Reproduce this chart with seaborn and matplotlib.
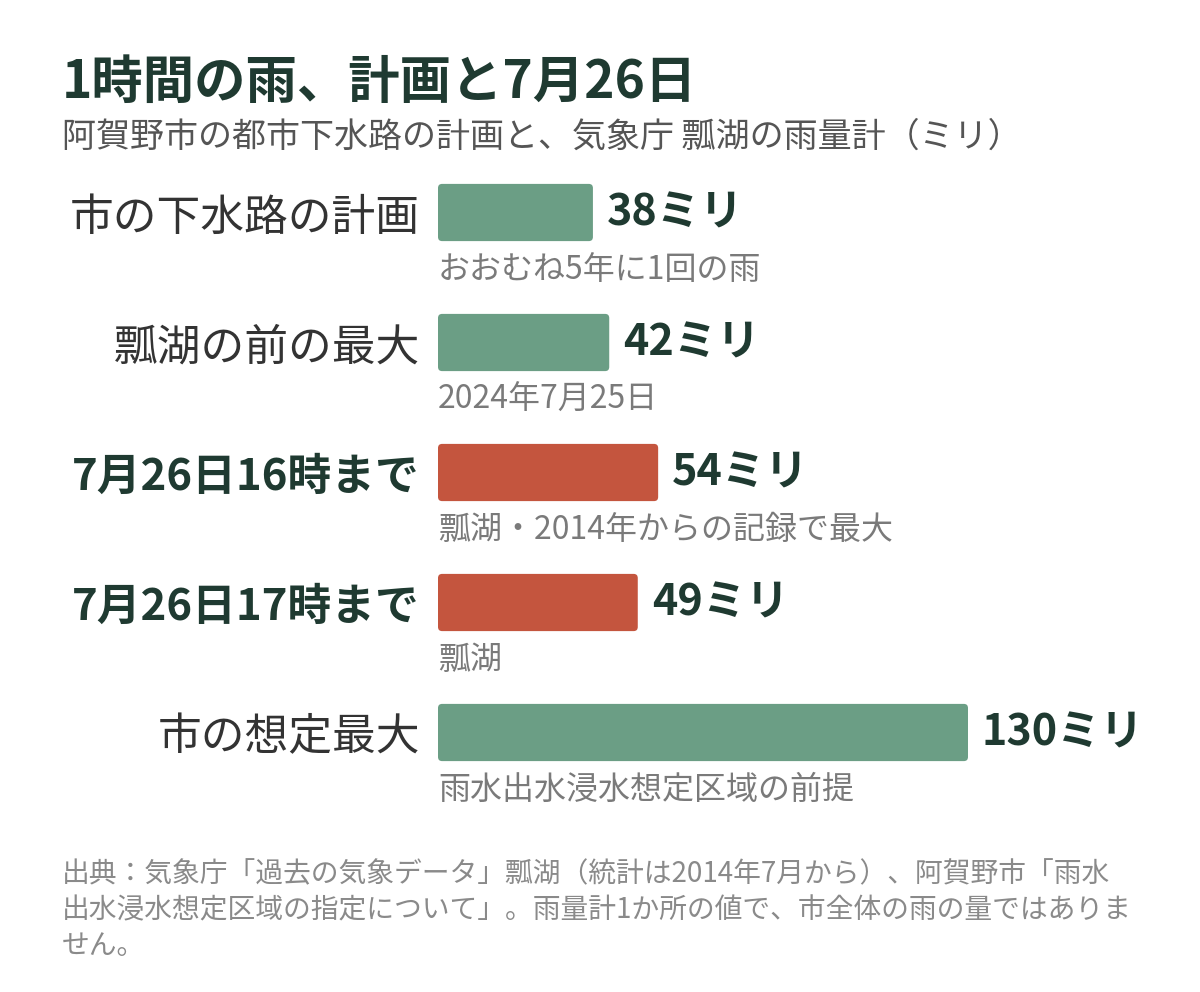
import matplotlib
matplotlib.use('Agg')
import matplotlib.pyplot as plt
from matplotlib.patches import FancyBboxPatch
import seaborn as sns

# data
categories = ['市の下水路の計画', '瓢湖の前の最大', '7月26日16時まで', '7月26日17時まで', '市の想定最大']
rain_mm = [38, 42, 54, 49, 130]
notes = ['おおむね5年に1回の雨', '2024年7月25日', '瓢湖・2014年からの記録で最大', '瓢湖', '雨水出水浸水想定区域の前提']
highlight = [False, False, True, True, False]

GREEN = '#6b9e85'
RED = '#c4553e'
DARK = '#1f3a31'
GRAY = '#7a7a7a'

sns.set_theme(style='white')
plt.rcParams['font.family'] = ['Noto Sans CJK JP', 'DejaVu Sans']

fig = plt.figure(figsize=(12, 9.92), dpi=100)
ax = fig.add_axes([438 / 1200, 1 - 797.5 / 992, 530 / 1200, 650 / 992])

colors = [RED if h else GREEN for h in highlight]
sns.barplot(x=rain_mm, y=categories, hue=categories, palette=colors,
            orient='h', width=0.44, legend=False, ax=ax, saturation=1)

ax.set_xlim(0, 130)
ax.set_ylim(4.5, -0.5)
ax.set_xlabel('')
ax.set_ylabel('')
ax.set_xticks([])
sns.despine(ax=ax, left=True, bottom=True)

# category labels on the left
ax.tick_params(axis='y', length=0, pad=13, labelsize=31.5, labelcolor=DARK)
for lab, h in zip(ax.get_yticklabels(), highlight):
    lab.set_fontweight('bold' if h else 'normal')
    lab.set_color(DARK if h else '#333333')

# value labels
for cont in ax.containers:
    ax.bar_label(cont, labels=[f'{v:.0f}ミリ' for v in cont.datavalues],
                 padding=10, fontsize=31, fontweight='bold', color=DARK)

# rounded bars
for p in list(ax.patches):
    x, y = p.get_x(), p.get_y()
    w, h = p.get_width(), p.get_height()
    rb = FancyBboxPatch((x, y), w, h, boxstyle='round,pad=0,rounding_size=1',
                        mutation_aspect=0.032, facecolor=p.get_facecolor(),
                        edgecolor='none')
    ax.add_patch(rb)
    p.set_visible(False)

# notes under bars
for i, note in enumerate(notes):
    ax.text(0, i + 0.44, note, ha='left', va='center', fontsize=23, color=GRAY)

fig.text(62 / 1200, 1 - 82 / 992, '1時間の雨、計画と7月26日', fontsize=37,
         fontweight='bold', color=DARK, ha='left', va='center')
fig.text(62 / 1200, 1 - 137 / 992, '阿賀野市の都市下水路の計画と、気象庁 瓢湖の雨量計（ミリ）',
         fontsize=24.5, color='#555555', ha='left', va='center')

source = ('出典：気象庁「過去の気象データ」瓢湖（統計は2014年7月から）、阿賀野市「雨水\n'
          '出水浸水想定区域の指定について」。雨量計1か所の値で、市全体の雨の量ではありま\n'
          'せん。')
fig.text(62 / 1200, 1 - 859 / 992, source, fontsize=20, color='#8a8a8a',
         ha='left', va='top', linespacing=1.27)

fig.savefig('out.png', dpi=100, facecolor='white')
